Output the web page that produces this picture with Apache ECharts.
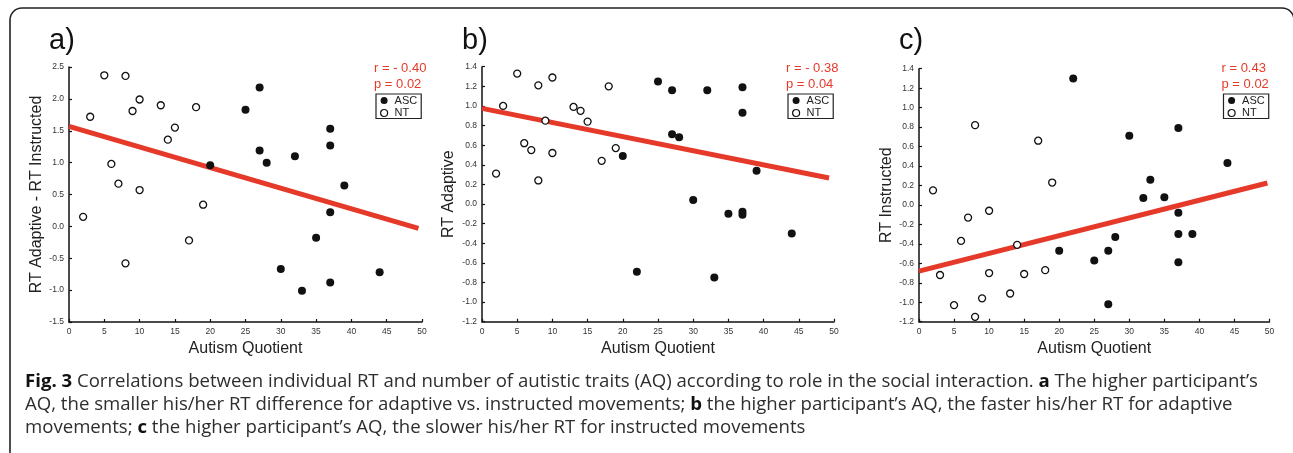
<!DOCTYPE html>
<html>
<head>
<meta charset="utf-8">
<script src="https://cdn.jsdelivr.net/npm/echarts@6/dist/echarts.min.js"></script>
<style>
html,body{margin:0;padding:0;background:#fff;}
#chart{width:1293px;height:453px;}
</style>
</head>
<body>
<div id="chart"></div>
<script>
// ---------- DATA ----------
const panelLabels = ['a)', 'b)', 'c)'];
const yTitles = ['RT Adaptive - RT Instructed', 'RT Adaptive', 'RT Instructed'];
const xTitle = 'Autism Quotient';
const statsR = ['r = - 0.40', 'r = - 0.38', 'r = 0.43'];
const statsP = ['p = 0.02', 'p = 0.04', 'p = 0.02'];
const seriesNames = ['ASC', 'NT'];

// panel a
const aASC = [[20,0.96],[25,1.83],[27,2.18],[27,1.19],[28,1.00],[32,1.10],[37,1.53],[37,1.27],[39,0.64],[37,0.22],[35,-0.18],[30,-0.67],[33,-1.01],[37,-0.88],[44,-0.72]];
const aNT  = [[2,0.15],[3,1.72],[5,2.37],[8,2.36],[6,0.98],[10,1.99],[9,1.81],[13,1.90],[15,1.55],[14,1.36],[18,1.87],[7,0.67],[10,0.57],[19,0.34],[17,-0.22],[8,-0.58]];
const aFit = [[0,1.57],[49.5,-0.03]];

// panel b
const bASC = [[20,0.49],[25,1.25],[27,1.16],[32,1.16],[37,1.19],[37,0.93],[27,0.71],[28,0.68],[39,0.34],[22,-0.69],[30,0.04],[33,-0.75],[35,-0.10],[37,-0.08],[37,-0.11],[44,-0.30]];
const bNT  = [[2,0.31],[3,1.00],[5,1.33],[8,1.21],[10,1.29],[9,0.85],[6,0.62],[7,0.55],[10,0.52],[8,0.24],[13,0.99],[14,0.95],[15,0.84],[18,1.20],[19,0.57],[17,0.44]];
const bFit = [[0,0.975],[49.3,0.265]];

// panel c
const cASC = [[22,1.30],[30,0.71],[37,0.79],[44,0.43],[33,0.26],[32,0.07],[35,0.08],[37,-0.08],[37,-0.30],[39,-0.30],[37,-0.59],[28,-0.33],[27,-0.47],[25,-0.57],[20,-0.47],[27,-1.02]];
const cNT  = [[2,0.15],[3,-0.72],[5,-1.03],[6,-0.37],[7,-0.13],[8,-1.15],[8,0.82],[9,-0.96],[10,-0.06],[10,-0.70],[13,-0.91],[14,-0.41],[15,-0.71],[18,-0.67],[19,0.23],[17,0.66]];
const cFit = [[0,-0.68],[49.7,0.225]];

const xRange = [0, 50, 5];
const yRanges = [[-1.5, 2.5, 0.5], [-1.2, 1.4, 0.2], [-1.2, 1.4, 0.2]];

const captionLines = [
  '{b|Fig. 3} Correlations between individual RT and number of autistic traits (AQ) according to role in the social interaction. {b|a} The higher participant\u2019s',
  'AQ, the smaller his/her RT difference for adaptive vs. instructed movements; {b|b} the higher participant\u2019s AQ, the faster his/her RT for adaptive',
  'movements; {b|c} the higher participant\u2019s AQ, the slower his/her RT for instructed movements'
];

// ---------- LAYOUT ----------
const grids = [
  {left: 69, top: 67, width: 353, height: 255},
  {left: 482, top: 66.7, width: 352, height: 255},
  {left: 919, top: 68.7, width: 350.5, height: 253}
];
const yNameGaps = [24, 25, 24];
const panelData = [[aASC, aNT, aFit], [bASC, bNT, bFit], [cASC, cNT, cFit]];
const RED = '#e5392a';
const FONT = '"Liberation Sans", Arial, sans-serif';
const CAPFONT = '"Open Sans", sans-serif';
const CAPSIZE = 18.6;

const chart = echarts.init(document.getElementById('chart'), null, {renderer: 'canvas'});

const xAxes = [], yAxes = [], series = [], legends = [], graphics = [];

grids.forEach((g, i) => {
  xAxes.push({
    gridIndex: i, type: 'value', min: xRange[0], max: xRange[1], interval: xRange[2],
    name: xTitle, nameLocation: 'middle', nameGap: 19,
    nameTextStyle: {fontFamily: FONT, fontSize: 16, color: '#222'},
    axisLine: {show: true, onZero: false, lineStyle: {color: '#111', width: 1.5}},
    axisTick: {show: true, inside: true, length: 3, lineStyle: {color: '#111', width: 1.2}},
    axisLabel: {fontFamily: FONT, fontSize: 8.5, color: '#333', margin: 5},
    splitLine: {show: false}
  });
  const yr = yRanges[i];
  yAxes.push({
    gridIndex: i, type: 'value', min: yr[0], max: yr[1], interval: yr[2],
    name: yTitles[i], nameLocation: 'middle', nameGap: yNameGaps[i],
    nameTextStyle: {fontFamily: FONT, fontSize: 16, color: '#222'},
    axisLine: {show: true, onZero: false, lineStyle: {color: '#111', width: 1.5}},
    axisTick: {show: true, inside: true, length: 3, lineStyle: {color: '#111', width: 1.2}},
    axisLabel: {fontFamily: FONT, fontSize: 8.5, color: '#333', margin: 5,
      formatter: v => (Math.abs(v) < 1e-9 ? 0 : v).toFixed(1)},
    splitLine: {show: false}
  });
  const [asc, nt, fit] = panelData[i];
  series.push({
    type: 'line', xAxisIndex: i, yAxisIndex: i, data: fit, showSymbol: false, symbol: 'none',
    lineStyle: {color: RED, width: 5}, z: 1, silent: true, animation: false
  });
  series.push({
    name: seriesNames[0], type: 'scatter', xAxisIndex: i, yAxisIndex: i, data: asc,
    symbol: 'circle', symbolSize: 8, itemStyle: {color: '#111', borderColor: '#111', borderWidth: 0, opacity: 1},
    z: 3, animation: false
  });
  series.push({
    name: seriesNames[1], type: 'scatter', xAxisIndex: i, yAxisIndex: i, data: nt,
    symbol: 'circle', symbolSize: 7, itemStyle: {color: '#fff', borderColor: '#111', borderWidth: 1.3, opacity: 1},
    z: 3, animation: false
  });
  const right = g.left + g.width;
  legends.push({
    orient: 'vertical', left: right - 46, top: 94,
    data: [
      {name: seriesNames[0], icon: 'circle', itemStyle: {color: '#111', borderWidth: 0}},
      {name: seriesNames[1], icon: 'circle', itemStyle: {color: '#fff', borderColor: '#111', borderWidth: 1.2}}
    ],
    itemWidth: 7, itemHeight: 7, itemGap: 1.5,
    padding: [1, 4, 0, 4], borderColor: '#222', borderWidth: 1.2, borderRadius: 0,
    textStyle: {fontFamily: FONT, fontSize: 11, color: '#222', padding: [0, 0, 0, 2]},
    selectedMode: false
  });
  graphics.push({
    type: 'text', left: right - 48, top: 61.5,
    style: {text: statsR[i], fill: RED, font: '13px ' + FONT}
  });
  graphics.push({
    type: 'text', left: right - 48, top: 77.5,
    style: {text: statsP[i], fill: RED, font: '13px ' + FONT}
  });
  graphics.push({
    type: 'text', left: g.left - 20, top: 26,
    style: {text: panelLabels[i], fill: '#111', font: '29px ' + FONT}
  });
});

// frame
graphics.push({
  type: 'rect', shape: {x: 10, y: 8, width: 1284, height: 520, r: 12},
  style: {fill: 'none', stroke: '#222', lineWidth: 1.6}, silent: true, z: -1
});
// caption
graphics.push({
  type: 'text', left: 25, top: 370,
  style: {
    text: captionLines.join('\n'),
    font: CAPSIZE + 'px ' + CAPFONT, fill: '#2e2e2e', lineHeight: 23,
    rich: {b: {font: 'bold ' + CAPSIZE + 'px ' + CAPFONT, fill: '#111', lineHeight: 23}}
  }
});

chart.setOption({
  animation: false,
  backgroundColor: '#fff',
  grid: grids.map(g => Object.assign({containLabel: false}, g)),
  xAxis: xAxes,
  yAxis: yAxes,
  legend: legends,
  series: series,
  graphic: graphics
});
</script>
</body>
</html>
